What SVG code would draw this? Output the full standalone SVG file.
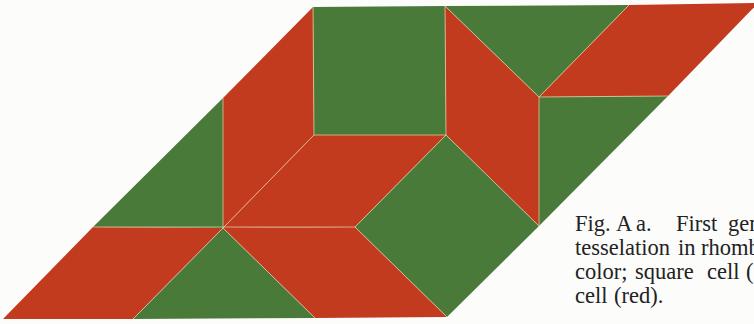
<svg xmlns="http://www.w3.org/2000/svg" width="754" height="324" viewBox="0 0 754 324">
  <style>
    .red { fill: #c23b1f; }
    .green { fill: #4a7a3a; }
    .seam { fill: none; stroke: #e8d9a8; stroke-width: 0.9; stroke-opacity: 0.75; }
    .cap { font-family: "Liberation Serif", "Times New Roman", serif; font-size: 22.5px; fill: #222; }
  </style>
  <rect width="754" height="324" fill="#fcfcfb"/>
  <g id="tiles">
    <polygon id="sq-top" class="green" points="313,7 445,6 446,135 314,135"/>
    <polygon id="rh-left-top" class="red" points="313,7 314,135 223,228 223,98"/>
    <polygon id="tri-left" class="green" points="223,98 223,228 93,227"/>
    <polygon id="rh-mid" class="red" points="314,135 446,135 355,227 223,228"/>
    <polygon id="rh-center" class="red" points="445,6 539,97 539,226 446,135"/>
    <polygon id="tri-top" class="green" points="445,6 629,5 539,97"/>
    <polygon id="rh-top-right" class="red" points="629,5 758,3 668,96 539,97"/>
    <polygon id="tri-right" class="green" points="539,97 668,96 539,226"/>
    <polygon id="sq-diamond" class="green" points="446,135 539,226 447,317 355,227"/>
    <polygon id="rh-bottom-left" class="red" points="93,227 223,228 133,319 3,319"/>
    <polygon id="tri-bottom" class="green" points="223,228 315,318 133,319"/>
    <polygon id="rh-bottom-mid" class="red" points="223,228 355,227 447,317 315,318"/>
  </g>
  <g id="seams" class="seam">
    <path d="M313,7 L314,135 M314,135 L446,135 M445,6 L446,135 M314,135 L223,228 M223,98 L223,228 M93,227 L355,227 M446,135 L355,227 M446,135 L539,226 M445,6 L539,97 L629,5 M539,97 L668,96 M539,97 L539,226 M355,227 L447,317 M133,319 L223,228 L315,318"/>
  </g>
  <g id="caption" class="cap">
    <text y="231"><tspan x="575">Fig.</tspan><tspan x="616">A</tspan><tspan x="636">a.</tspan><tspan x="676">First</tspan><tspan x="728">gen</tspan></text>
    <text y="255"><tspan x="575">tesselation</tspan><tspan x="678">in</tspan><tspan x="701">rhomb</tspan></text>
    <text y="279"><tspan x="575">color;</tspan><tspan x="635">square</tspan><tspan x="707">cell</tspan><tspan x="746">(</tspan></text>
    <text y="303"><tspan x="575">cell</tspan><tspan x="614">(red).</tspan></text>
  </g>
</svg>
